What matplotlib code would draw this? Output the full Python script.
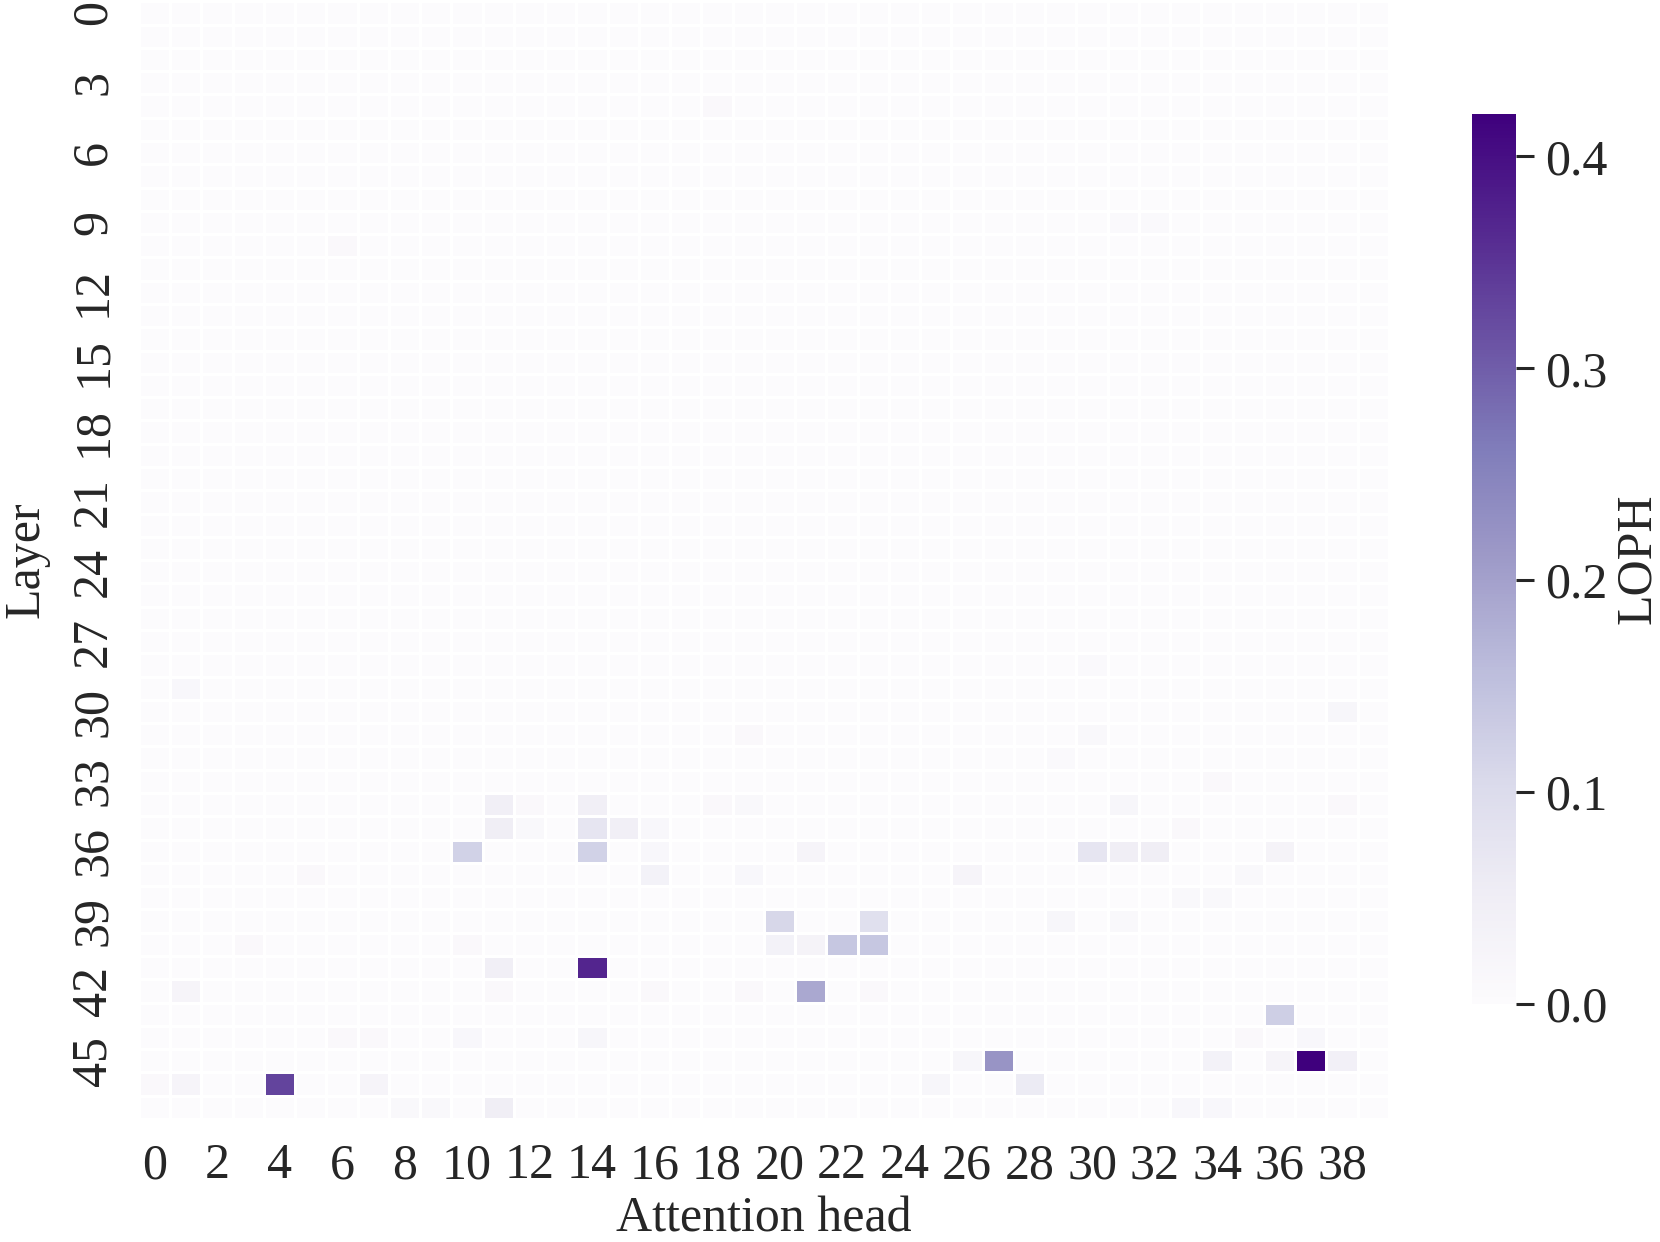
import matplotlib
matplotlib.use("Agg")
import matplotlib.pyplot as plt
import numpy as np
import seaborn as sns

N_LAYERS = 48
N_HEADS = 40

# non-negligible cells: (layer, head, LOPH)
LAYER_IDX = [4, 9, 9, 10, 28, 29, 30, 31, 31, 32, 33,
             34, 34, 34, 34, 34, 34, 34,
             35, 35, 35, 35, 35, 35,
             36, 36, 36, 36, 36, 36, 36, 36,
             37, 37, 37, 37, 37, 38, 38,
             39, 39, 39, 39,
             40, 40, 40, 40, 40, 40,
             41, 41,
             42, 42, 42, 42, 42, 42,
             43,
             44, 44, 44, 44, 44, 44,
             45, 45, 45, 45, 45, 45,
             46, 46, 46, 46, 46, 46,
             47, 47, 47, 47, 47]
HEAD_IDX = [18, 31, 32, 6, 30, 1, 38, 19, 30, 29, 34,
            11, 12, 14, 18, 19, 31, 38,
            11, 12, 14, 15, 16, 33,
            10, 14, 16, 21, 30, 31, 32, 36,
            5, 16, 19, 26, 35, 33, 34,
            20, 23, 29, 31,
            3, 10, 20, 21, 22, 23,
            11, 14,
            1, 11, 16, 19, 21, 23,
            36,
            6, 7, 10, 14, 35, 37,
            26, 27, 34, 36, 37, 38,
            0, 1, 4, 7, 25, 28,
            8, 9, 11, 33, 34]
LOPH_VALS = [0.010, 0.008, 0.008, 0.010, 0.008, 0.015, 0.020, 0.010, 0.012, 0.008, 0.010,
             0.045, 0.010, 0.045, 0.010, 0.012, 0.020, 0.010,
             0.050, 0.012, 0.075, 0.045, 0.015, 0.010,
             0.120, 0.120, 0.015, 0.025, 0.075, 0.050, 0.050, 0.030,
             0.010, 0.035, 0.015, 0.025, 0.012, 0.012, 0.012,
             0.110, 0.090, 0.020, 0.012,
             0.010, 0.010, 0.035, 0.030, 0.140, 0.140,
             0.045, 0.370,
             0.025, 0.010, 0.010, 0.010, 0.190, 0.010,
             0.125,
             0.010, 0.010, 0.015, 0.020, 0.010, 0.015,
             0.020, 0.220, 0.035, 0.025, 0.420, 0.040,
             0.010, 0.025, 0.330, 0.025, 0.020, 0.060,
             0.012, 0.012, 0.050, 0.015, 0.015]

X_TICKS = list(range(0, N_HEADS, 2))
Y_TICKS = list(range(0, N_LAYERS, 3))
CBAR_TICKS = [0.0, 0.1, 0.2, 0.3, 0.4]
VMAX = 0.42

FONTSIZE = 36

plt.rcParams["font.family"] = ["Liberation Serif", "DejaVu Serif"]
plt.rcParams["text.color"] = "#262626"
plt.rcParams["axes.labelcolor"] = "#262626"
plt.rcParams["xtick.color"] = "#262626"
plt.rcParams["ytick.color"] = "#262626"

loph = np.zeros((N_LAYERS, N_HEADS))
loph[LAYER_IDX, HEAD_IDX] = LOPH_VALS

fig = plt.figure(figsize=(16.6, 12.42), dpi=100)
ax = fig.add_axes([0.0837, 0.099, 0.753, 0.900])
cax = fig.add_axes([0.8867, 0.1916, 0.0265, 0.7166])

sns.heatmap(
    loph, ax=ax, cbar_ax=cax, cmap="Purples", vmin=0, vmax=VMAX,
    linewidths=1.0, linecolor="white",
    xticklabels=False, yticklabels=False,
    cbar_kws={"ticks": CBAR_TICKS},
)

ax.set_xticks([t + 0.5 for t in X_TICKS])
ax.set_xticklabels([str(t) for t in X_TICKS], fontsize=FONTSIZE, rotation=0)
ax.set_yticks([t + 0.5 for t in Y_TICKS])
ax.set_yticklabels([str(t) for t in Y_TICKS], fontsize=FONTSIZE, rotation=90, va="center")
ax.tick_params(axis="both", length=0)
ax.tick_params(axis="x", pad=17)
ax.tick_params(axis="y", pad=16)
ax.set_xlabel("Attention head", fontsize=FONTSIZE, labelpad=5)
ax.set_ylabel("Layer", fontsize=FONTSIZE, labelpad=15)

cax.tick_params(labelsize=FONTSIZE, length=13, width=2.2, pad=8)
cax.set_yticklabels(["0.0", "0.1", "0.2", "0.3", "0.4"])
cax.set_ylabel("LOPH", fontsize=FONTSIZE, labelpad=5)
for s in cax.spines.values():
    s.set_visible(False)

fig.savefig("out.png", dpi=100)
